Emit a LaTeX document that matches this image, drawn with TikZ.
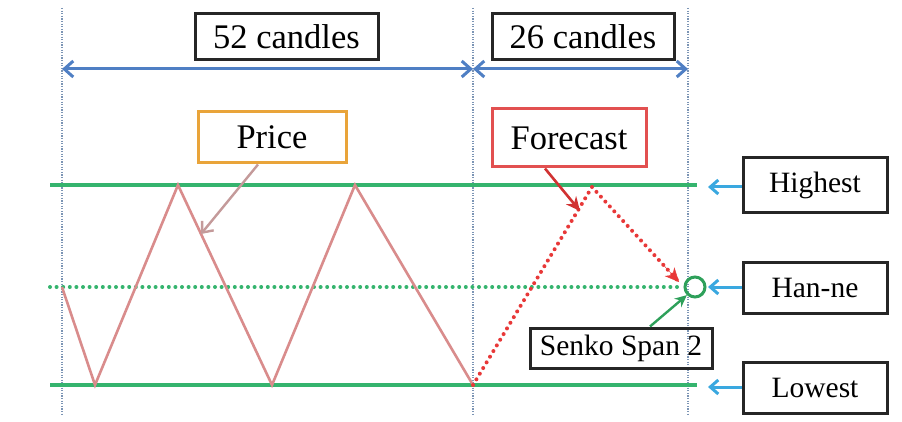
\documentclass[tikz,border=0pt]{standalone}
\usepackage{fontspec}
\setmainfont{Liberation Serif}
\usetikzlibrary{arrows.meta,calc}
\definecolor{gline}{HTML}{35B46E}
\definecolor{bluearr}{HTML}{4F7FC4}
\definecolor{lblue}{HTML}{3AA8E0}
\definecolor{vline}{HTML}{7C95B5}
\definecolor{pricec}{HTML}{D98C8C}
\definecolor{pricearr}{HTML}{C49A9A}
\definecolor{orangeb}{HTML}{E9A43A}
\definecolor{redb}{HTML}{E25050}
\definecolor{fcred}{HTML}{E83838}
\definecolor{circg}{HTML}{2EA05A}
\tikzset{
  lbox/.style={draw=black!85, line width=3pt, inner sep=0pt, font=\fontsize{29.5}{32}\selectfont},
  tbox/.style={draw=black!85, line width=3pt, inner sep=0pt, font=\fontsize{34.5}{37}\selectfont},
  vdot/.style={vline, line width=1.1pt, dash pattern=on 1.2pt off 1.4pt},
  levelline/.style={gline, line width=4pt},
  dotline/.style={line width=4pt, line cap=round, dash pattern=on 0pt off 6.6pt},
  spanarrow/.style={bluearr, line width=3pt, {Straight Barb[length=9pt,width=16pt,line width=3pt]}-{Straight Barb[length=9pt,width=16pt,line width=3pt]}},
  sidearrow/.style={lblue, line width=3pt, -{Straight Barb[length=8pt,width=14pt,line width=3pt]}},
}
\begin{document}
\begin{tikzpicture}[x=1pt,y=-1pt]
\useasboundingbox[fill=white] (0,0) rectangle (902,422);
% vertical guides
\coordinate (v1t) at (62,8);   \coordinate (v1b) at (62,416);
\coordinate (v2t) at (473,8);  \coordinate (v2b) at (473,416);
\coordinate (v3t) at (688,8);  \coordinate (v3b) at (688,416);
\draw[vdot] (v1t) -- (v1b);
\draw[vdot] (v2t) -- (v2b);
\draw[vdot] (v3t) -- (v3b);
% level lines
\coordinate (hiL) at (50,185); \coordinate (hiR) at (697,185);
\coordinate (hnL) at (50,287); \coordinate (hnR) at (682,287);
\coordinate (loL) at (50,385); \coordinate (loR) at (697,385);
\draw[levelline] (hiL) -- (hiR);
\draw[levelline] (loL) -- (loR);
\draw[dotline, gline] (hnL) -- (hnR);
% price zigzag
\coordinate (p0) at (62,287);
\coordinate (p1) at (95,385);
\coordinate (p2) at (178,185);
\coordinate (p3) at (272,385);
\coordinate (p4) at (355,185);
\coordinate (p5) at (473,385);
\draw[pricec, line width=2.6pt, line join=miter] (p0) -- (p1) -- (p2) -- (p3) -- (p4) -- (p5);
% forecast
\coordinate (f1) at (592,187);
\coordinate (f2) at (679,282);
\draw[dotline, fcred] (p5) -- (f1) -- (f2);
\draw[fcred, -{Stealth[length=14pt,width=13pt]}] ($(f1)!0.8!(f2)$) -- (f2);
% span arrows
\coordinate (a1) at (62,69); \coordinate (a2) at (473,69); \coordinate (a3) at (688,69);
\draw[spanarrow] (a1) -- (a2);
\draw[spanarrow] (a2) -- (a3);
% top boxes
\node[tbox, minimum width=183pt, minimum height=46pt] (c52) at (286.5,37) {52 candles};
\node[tbox, minimum width=182pt, minimum height=46pt] (c26) at (583,37) {26 candles};
% price / forecast labels
\node[tbox, draw=orangeb, minimum width=148pt, minimum height=51pt] (price) at (272,137.5) {Price};
\node[tbox, draw=redb, minimum width=154pt, minimum height=58pt] (fc) at (569,138) {Forecast};
\coordinate (pa) at (201,234);
\draw[pricearr, line width=2.4pt, -{Straight Barb[length=9pt,width=15pt,line width=2.4pt]}] (price.south -| 258,0) -- (pa);
\coordinate (fa) at (580,211);
\draw[fcred!90!black, line width=2.6pt, -{Stealth[length=14pt,width=13pt]}] (fc.south -| 545,0) -- (fa);
% Senko span 2
\node[circle, draw=circg, line width=3pt, minimum size=20pt, inner sep=0pt] (circ) at (695,287) {};
\node[lbox, minimum width=182pt, minimum height=40pt] (senko) at (621,348) {Senko Span 2};
\draw[circg, line width=2.4pt, -{Stealth[length=12pt,width=11pt]}] (senko.north -| 650,0) -- (circ.south west);
% right labels
\node[lbox, minimum width=144pt, minimum height=55pt] (hi) at (815,185.5) {Highest};
\node[lbox, minimum width=144pt, minimum height=51pt] (hn) at (815,287.5) {Han-ne};
\node[lbox, minimum width=144pt, minimum height=51pt] (lo) at (815,387.5) {Lowest};
\coordinate (hia) at (708,187);
\coordinate (hna) at (708,287);
\coordinate (loa) at (708,387);
\draw[sidearrow] (hi.west |- hia) -- (hia);
\draw[sidearrow] (hn.west |- hna) -- (hna);
\draw[sidearrow] (lo.west |- loa) -- (loa);
\end{tikzpicture}
\end{document}
